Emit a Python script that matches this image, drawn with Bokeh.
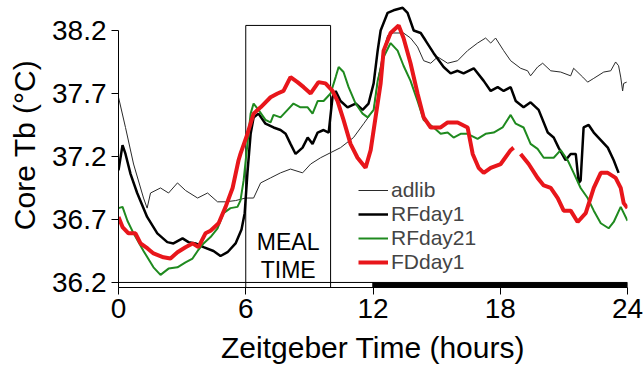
import math
from bokeh.plotting import figure
from bokeh.models import Range1d, FixedTicker, Legend, LegendItem
from bokeh.core.properties import value
from bokeh.embed import file_html
from bokeh.resources import INLINE

FONT = "Liberation Sans"
NAN = float("nan")

# ---------------- data ----------------
X_TICKS = [0, 6, 12, 18, 24]
Y_TICKS = [36.2, 36.7, 37.2, 37.7, 38.2]
MEAL_START, MEAL_END = 6, 10
LIGHT_START, LIGHT_END = 0, 12
DARK_START, DARK_END = 12, 24
SERIES_NAMES = ["adlib", "RFday1", "RFday21", "FDday1"]

adlib_t = [0, 0.33, 0.71, 1.18, 1.35, 1.51, 1.98, 2.36, 2.78, 3.16,
           3.73, 4.20, 4.67, 5.05, 5.52, 5.99, 6.37, 6.70, 7.17, 7.64,
           8.11, 8.68, 9.06, 9.53, 10.00, 10.47, 11.08, 11.56, 12.03, 12.22,
           12.50, 12.69, 12.97, 13.44, 13.77, 14.10, 14.39, 14.72, 15.05, 15.52,
           15.99, 16.46, 16.93, 17.31, 17.55, 17.78, 18.16, 18.49, 18.96, 19.29,
           19.43, 19.76, 20.00, 20.38, 20.85, 21.32, 21.46, 21.89, 22.12, 22.41,
           22.88, 23.21, 23.44, 23.58, 23.68, 23.77, 23.82, 23.96]
adlib_T = [37.67, 37.43, 37.14, 36.87, 36.79, 36.91, 36.95, 36.91, 36.99, 36.93,
           36.87, 36.91, 36.84, 36.84, 36.85, 36.87, 36.87, 36.99, 37.03, 37.07,
           37.10, 37.07, 37.14, 37.19, 37.23, 37.27, 37.35, 37.46, 37.57, 37.80,
           38.05, 38.16, 38.18, 38.18, 38.14, 38.07, 37.96, 37.94, 37.99, 37.94,
           37.96, 38.04, 38.10, 38.14, 38.10, 38.14, 38.04, 37.96, 37.90, 37.88,
           37.84, 37.91, 37.94, 37.88, 37.87, 37.84, 37.90, 37.83, 37.79, 37.82,
           37.87, 37.88, 37.95, 37.92, 37.83, 37.72, 37.78, 37.79]

rfday1_t = [0, 0.19, 0.33, 0.57, 0.88, 1.35, 1.83, 2.30, 2.59, 3.02,
            3.30, 3.63, 4.01, 4.48, 4.81, 5.14, 5.52, 5.80, 5.95, 6.08,
            6.23, 6.37, 6.60, 6.93, 7.31, 7.64, 7.88, 8.11, 8.35, 8.68,
            8.92, 9.15, 9.39, 9.67, 9.91, 10.09, 10.24, 10.47, 10.80, 11.18,
            11.51, 11.79, 12.03, 12.22, 12.36, 12.69, 12.97, 13.40, 13.63, 13.92,
            14.25, 14.48, 14.86, 15.33, 15.66, 15.99, 16.27, 16.75, 17.22, 17.55,
            17.88, 18.16, 18.49, 18.73, 19.10, 19.43, 19.81, 20.24, 20.52, 20.75,
            21.08, 21.32, 21.56, 21.70, 21.79, 21.93, 22.17, 22.41, 22.74, 23.07,
            23.35, 23.58]
rfday1_T = [37.09, 37.29, 37.22, 37.06, 36.91, 36.72, 36.59, 36.52, 36.51, 36.55,
            36.52, 36.51, 36.48, 36.45, 36.41, 36.44, 36.51, 36.62, 36.75, 37.07,
            37.38, 37.51, 37.54, 37.46, 37.43, 37.41, 37.38, 37.30, 37.22, 37.27,
            37.35, 37.30, 37.39, 37.41, 37.39, 37.67, 37.72, 37.64, 37.59, 37.62,
            37.57, 37.62, 37.78, 38.04, 38.20, 38.34, 38.36, 38.38, 38.34, 38.20,
            38.18, 38.12, 38.02, 37.91, 37.86, 37.88, 37.86, 37.90, 37.80, 37.72,
            37.75, 37.72, 37.75, 37.64, 37.59, 37.63, 37.57, 37.39, 37.35, 37.27,
            37.17, 37.22, 37.22, 36.99, 37.01, 37.43, 37.45, 37.39, 37.33, 37.27,
            37.17, 37.07]

rfday21_t = [0, 0.19, 0.42, 0.71, 1.18, 1.65, 1.98, 2.36, 2.78, 3.16,
             3.49, 3.73, 4.01, 4.34, 4.67, 4.95, 5.28, 5.61, 5.75, 5.90,
             6.08, 6.23, 6.37, 6.60, 6.93, 7.17, 7.31, 7.64, 7.97, 8.25,
             8.58, 8.92, 9.15, 9.39, 9.67, 10.00, 10.24, 10.38, 10.61, 10.85,
             11.18, 11.51, 11.75, 12.03, 12.22, 12.50, 12.83, 13.16, 13.44, 13.77,
             14.10, 14.39, 14.86, 15.19, 15.52, 15.80, 16.13, 16.46, 16.93, 17.31,
             17.69, 18.11, 18.49, 18.73, 19.10, 19.43, 19.76, 20.05, 20.52, 20.85,
             21.18, 21.46, 21.79, 22.12, 22.41, 22.74, 23.11, 23.35, 23.68, 24.00]
rfday21_T = [36.79, 36.80, 36.69, 36.59, 36.45, 36.32, 36.26, 36.31, 36.32, 36.36,
             36.39, 36.45, 36.51, 36.56, 36.63, 36.75, 36.79, 36.80, 36.85, 37.01,
             37.30, 37.54, 37.62, 37.57, 37.49, 37.47, 37.53, 37.51, 37.57, 37.62,
             37.59, 37.59, 37.54, 37.64, 37.64, 37.70, 37.83, 37.91, 37.87, 37.75,
             37.62, 37.54, 37.51, 37.57, 37.80, 37.99, 38.10, 38.04, 37.92, 37.80,
             37.64, 37.49, 37.43, 37.38, 37.39, 37.35, 37.38, 37.38, 37.34, 37.38,
             37.39, 37.43, 37.53, 37.46, 37.43, 37.30, 37.26, 37.19, 37.19, 37.25,
             37.17, 37.07, 36.95, 36.87, 36.77, 36.67, 36.63, 36.68, 36.80, 36.69]

fdday1_t = [0, 0.19, 0.47, 0.80, 1.04, 1.37, 1.65, 2.12, 2.45, 2.78,
            3.16, 3.49, 3.77, 4.10, 4.34, 4.72, 5.05, 5.38, 5.66, 5.75,
            6.08, 6.37, 6.70, 7.17, 7.50, 7.78, 8.11, 8.44, 8.73, 9.06,
            9.43, 9.76, 10.09, 10.33, 10.61, 10.94, 11.27, 11.65, 11.89, 12.12,
            12.36, 12.50, 12.83, 13.21, 13.44, 13.77, 14.10, 14.39, 14.72, 15.19,
            15.52, 15.99, 16.46, 16.70, 16.98, 17.22, 17.55, 18.02, 18.49, 18.63,
            18.80, 18.96, 19.34, 19.76, 20.05, 20.38, 20.71, 20.99, 21.32, 21.65,
            22.03, 22.41, 22.74, 23.07, 23.44, 23.68, 23.82, 24.00]
fdday1_T = [36.72, 36.64, 36.59, 36.59, 36.51, 36.47, 36.43, 36.40, 36.39, 36.44,
            36.48, 36.51, 36.48, 36.59, 36.61, 36.67, 36.80, 36.95, 37.17, 37.22,
            37.38, 37.54, 37.59, 37.67, 37.70, 37.72, 37.83, 37.79, 37.75, 37.70,
            37.79, 37.78, 37.72, 37.64, 37.49, 37.30, 37.19, 37.11, 37.25, 37.51,
            37.78, 38.04, 38.18, 38.24, 38.14, 37.94, 37.70, 37.51, 37.43, 37.43,
            37.47, 37.47, 37.43, 37.22, 37.11, 37.07, 37.11, 37.14, 37.25, 37.27,
            NAN, 37.22, 37.14, 37.03, 36.97, 36.95, 36.87, 36.77, 36.77, 36.68,
            36.75, 36.95, 37.07, 37.07, 37.03, 36.95, 36.83, 36.79]

Y_BOTTOM = 36.16
Y_TOP = 38.422
BAR_TOP = 36.2
MEAL_TOP = 38.24

# ---------------- figure ----------------
p = figure(width=644, height=369, output_backend="svg", toolbar_location=None,
           x_range=Range1d(0, 24), y_range=Range1d(Y_BOTTOM, Y_TOP),
           min_border_left=118, min_border_right=17, min_border_top=2,
           min_border_bottom=82)
p.outline_line_color = None
p.grid.visible = False
p.background_fill_color = "white"
p.border_fill_color = "white"

# light/dark bar
p.quad(left=[LIGHT_START], right=[LIGHT_END], bottom=[Y_BOTTOM], top=[BAR_TOP],
       fill_color="white", line_color="black", line_width=1)
p.quad(left=[DARK_START], right=[DARK_END], bottom=[Y_BOTTOM], top=[BAR_TOP],
       fill_color="black", line_color="black", line_width=1)

# meal time box
p.quad(left=[MEAL_START], right=[MEAL_END], bottom=[Y_BOTTOM], top=[MEAL_TOP],
       fill_color=None, line_color="black", line_width=1)
p.text(x=[(MEAL_START + MEAL_END) / 2] * 2, y=[36.525, 36.30], text=["MEAL", "TIME"],
       text_font=value(FONT), text_font_size="23px", text_align="center",
       text_baseline="middle", text_color="black")

r_ad = p.line(adlib_t, adlib_T, line_color="#2a2a2a", line_width=1)
r_rf1 = p.line(rfday1_t, rfday1_T, line_color="black", line_width=2.5)
r_rf21 = p.line(rfday21_t, rfday21_T, line_color="#1f8a1f", line_width=2)
r_fd = p.line(fdday1_t, fdday1_T, line_color="#e8161b", line_width=4)

# legend: one single-item legend per row, so the rows can sit tightly together
row_offsets = [85, 61, 37, 13]   # screen px above the frame bottom
for name, rend, off in zip(SERIES_NAMES, [r_ad, r_rf1, r_rf21, r_fd], row_offsets):
    lg = Legend(items=[LegendItem(label=name, renderers=[rend])],
                location=(240, off), label_text_font=FONT, label_text_font_size="21px",
                glyph_width=30, glyph_height=16, label_standoff=3,
                padding=0, margin=0, border_line_color=None,
                background_fill_alpha=0)
    p.add_layout(lg, "center")

# axes
for ax in (p.xaxis[0], p.yaxis[0]):
    ax.major_label_text_font = FONT
    ax.major_label_text_font_size = "28px"
    ax.major_label_text_color = "black"
    ax.axis_label_text_font = FONT
    ax.axis_label_text_font_size = "30px"
    ax.axis_label_text_font_style = "normal"
    ax.axis_label_text_color = "black"
    ax.axis_line_color = "black"
    ax.major_tick_line_color = "black"
    ax.minor_tick_line_color = None
    ax.major_tick_in = 0
    ax.major_tick_out = 7

p.xaxis.ticker = FixedTicker(ticks=X_TICKS)
p.xaxis.axis_label = "Zeitgeber Time (hours)"
p.xaxis.major_label_standoff = 4
p.xaxis.axis_label_standoff = 10

p.yaxis.ticker = FixedTicker(ticks=Y_TICKS)
p.yaxis.bounds = (Y_BOTTOM, Y_TICKS[-1])
p.yaxis.axis_label = "Core Tb (°C)"
p.yaxis.major_label_standoff = 5
p.yaxis.axis_label_standoff = 8

open("out.html", "w").write(file_html(p, INLINE))
